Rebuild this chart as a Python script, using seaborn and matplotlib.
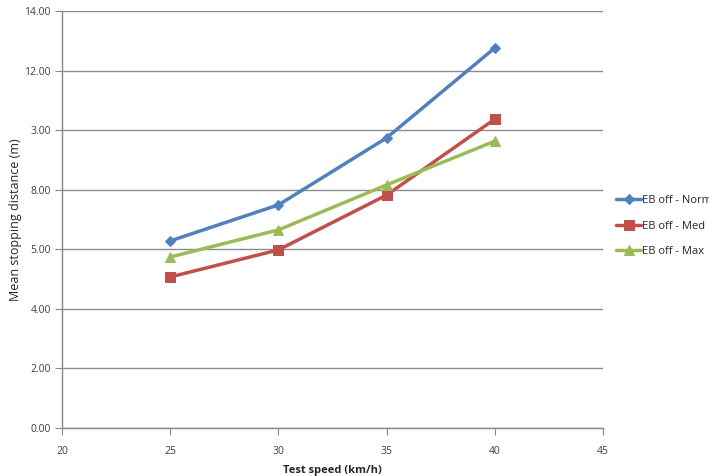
import matplotlib
matplotlib.use("Agg")
import matplotlib.pyplot as plt
import seaborn as sns
import pandas as pd

speeds = [25, 30, 35, 40]
eb_norm = [6.28, 7.49, 9.74, 12.76]
eb_med = [5.07, 5.98, 7.82, 10.37]
eb_max = [5.74, 6.65, 8.16, 9.63]
series_names = ["EB off - Normal", "EB off - Med", "EB off - Max"]
x_ticks = [20, 25, 30, 35, 40, 45]
y_ticks = [0, 2, 4, 6, 8, 10, 12, 14]
y_tick_labels = ["0.00", "2.00", "4.00", "5.00", "8.00", "3.00", "12.00", "14.00"]

df = pd.DataFrame({
    "speed": speeds * 3,
    "dist": eb_norm + eb_med + eb_max,
    "series": [series_names[0]] * 4 + [series_names[1]] * 4 + [series_names[2]] * 4,
})

sns.set_style("white")
plt.rcParams["font.family"] = ["Open Sans", "DejaVu Sans"]

fig = plt.figure(figsize=(7.09, 4.76), dpi=100)
ax = fig.add_axes([62 / 709, 1 - 428 / 476, (603 - 62) / 709, (428 - 11) / 476])

palette = {series_names[0]: "#4F81BD", series_names[1]: "#C0504D", series_names[2]: "#9BBB59"}
markers = {series_names[0]: "D", series_names[1]: "s", series_names[2]: "^"}
sizes = {series_names[0]: 5, series_names[1]: 7, series_names[2]: 7}

for name in series_names:
    sub = df[df["series"] == name]
    sns.lineplot(data=sub, x="speed", y="dist", ax=ax, color=palette[name],
                 marker=markers[name], markersize=sizes[name], markeredgecolor=palette[name],
                 linewidth=2.5, label=name)

ax.set_xlim(20, 45)
ax.set_ylim(0, 14)
ax.set_xticks(x_ticks)
ax.set_yticks(y_ticks)
ax.set_yticklabels(y_tick_labels)
ax.tick_params(axis="both", labelsize=7.5, length=5, width=0.8, direction="out",
               bottom=True, left=True, colors="#888888", labelcolor="#404040")
ax.tick_params(axis="x", pad=8)
ax.tick_params(axis="y", pad=3)
ax.yaxis.grid(True, color="#8c8c8c", linewidth=1)
ax.xaxis.grid(False)
for s in ["top", "right"]:
    ax.spines[s].set_visible(False)
for s in ["left", "bottom"]:
    ax.spines[s].set_color("#888888")
    ax.spines[s].set_linewidth(1)

ax.set_xlabel("Test speed (km/h)", fontsize=8, fontweight="bold", color="#262626", labelpad=6)
ax.set_ylabel("Mean stopping distance (m)", fontsize=9, color="#262626", labelpad=2)

leg = ax.legend(loc="center left", bbox_to_anchor=(1.0, 0.484), frameon=False, fontsize=8,
                handlelength=2.2, handletextpad=0.1, labelspacing=1.3, borderaxespad=0.8)

fig.savefig("out.png", dpi=100)
